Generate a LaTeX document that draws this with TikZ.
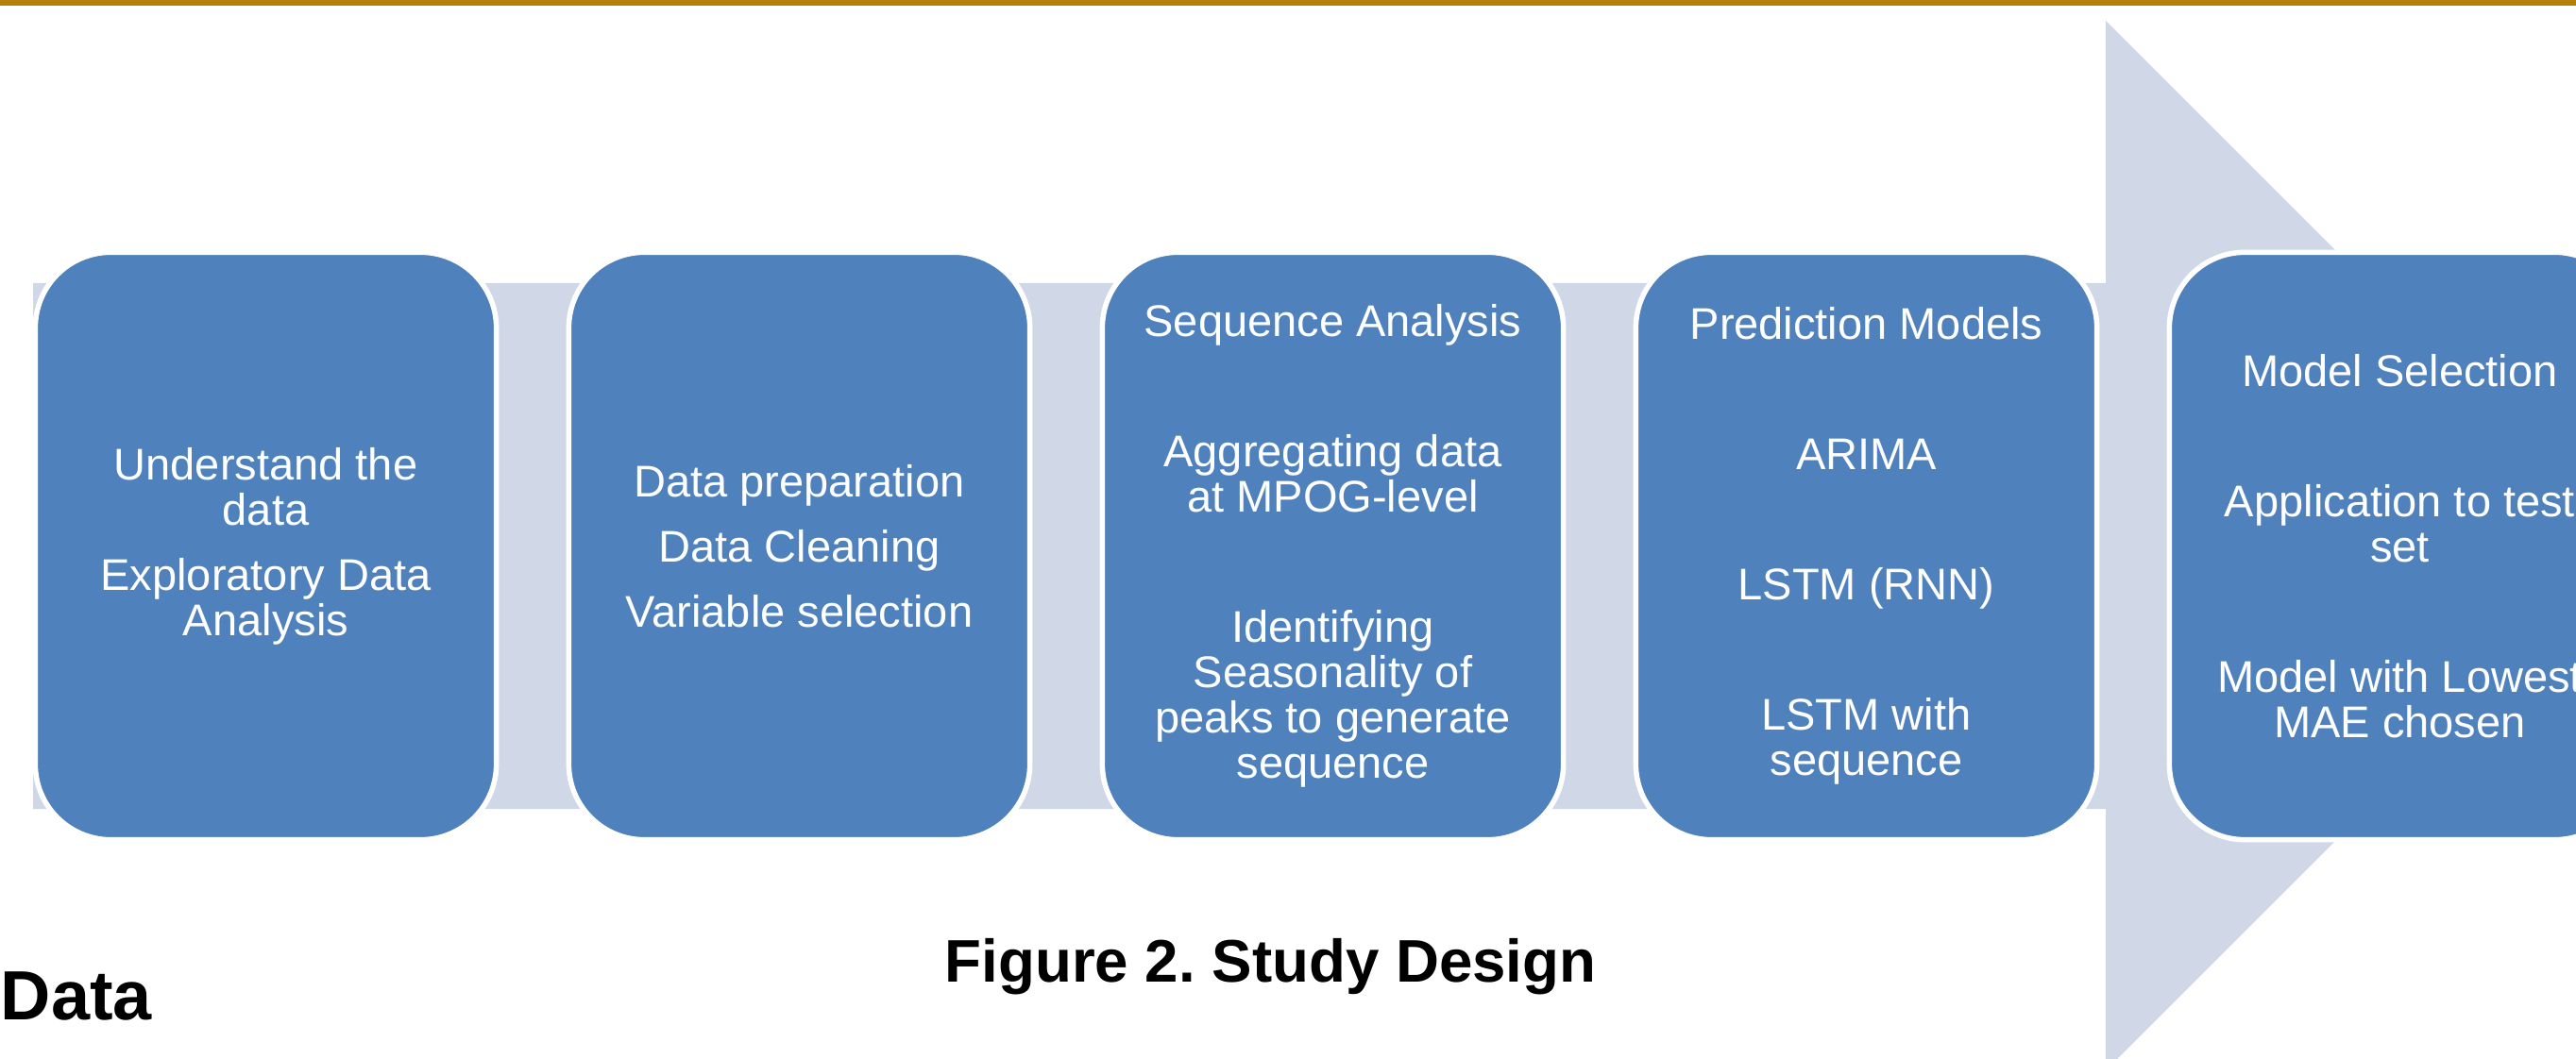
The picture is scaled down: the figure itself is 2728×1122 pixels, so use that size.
\documentclass[tikz,border=0pt]{standalone}
\usepackage{fontspec}
\setmainfont{Liberation Sans}
\frenchspacing
\definecolor{rulegold}{RGB}{180,128,10}
\definecolor{bandblue}{RGB}{208,216,232}
\definecolor{boxblue}{RGB}{79,129,189}
\newcommand\stagefont{\fontsize{13.37pt}{13.66pt}\selectfont}
\newcommand\pgap{\\[5.97pt]}
\newcommand\bgap{\\[25.6pt]}
\begin{document}
\begin{tikzpicture}[x=0.01cm,y=-0.01cm,
  stage/.style={rectangle, rounded corners=0.8cm, fill=boxblue, draw=white,
    line width=0.055cm, minimum width=4.88cm, minimum height=6.22cm,
    align=center, text=white, font=\stagefont, inner sep=0pt}]
\useasboundingbox (0,0) rectangle (2728,1122);
\clip (0,0) rectangle (2728,1122);
% gold rule along the top edge
\fill[rulegold] (0,0) rectangle (2728,6);
% broad process arrow behind the stages
\fill[bandblue] (35,300) -- (2230,300) -- (2230,22) -- (2786,578)
  -- (2230,1134) -- (2230,857) -- (35,857) -- cycle;
% stages
\node[stage] (s1) at (281.5,578.5) {Understand the\\data\pgap Exploratory Data\\Analysis};
\node[stage] (s2) at (846.5,578.5) {Data preparation\pgap Data Cleaning\pgap Variable selection};
\node[stage] (s3) at (1411.5,578.5) {Sequence Analysis\bgap Aggregating data\\at MPOG-level\bgap Identifying\\Seasonality of\\peaks to generate\\sequence};
\node[stage] (s4) at (1976.5,578.5) {Prediction Models\bgap ARIMA\bgap LSTM (RNN)\bgap LSTM with\\sequence};
\node[stage] (s5) at (2541.5,578.5) {Model Selection\bgap Application to test\\set\bgap Model with Lowest\\MAE chosen};
% captions
\node[anchor=base, inner sep=0pt, font=\bfseries\fontsize{18.1pt}{18pt}\selectfont] (caption) at (1345.5,1040) {Figure 2. Study Design};
\node[anchor=base west, inner sep=0pt, font=\bfseries\fontsize{21pt}{21pt}\selectfont] (datahead) at (0,1080) {Data};
\end{tikzpicture}
\end{document}
